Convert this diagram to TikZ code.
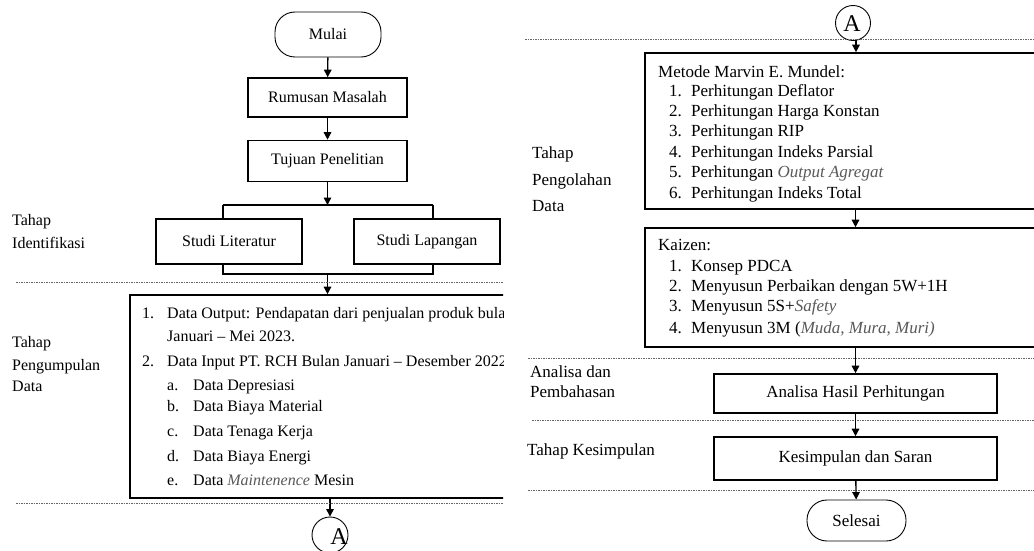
\documentclass[tikz,border=0pt]{standalone}
\usepackage{fontspec}
\setmainfont{Liberation Serif}
\usetikzlibrary{arrows.meta}
\begin{document}
\begin{tikzpicture}[x=1pt,y=-1pt,
  fL/.style={font=\fontsize{16}{18}\selectfont},
  fR/.style={font=\fontsize{17}{19}\selectfont},
  fA/.style={font=\fontsize{24}{26}\selectfont},
  box/.style={draw, line width=1.6pt, inner sep=0pt},
  term/.style={draw, line width=0.9pt, rounded corners=20pt, inner sep=0pt},
  conn/.style={draw, circle, line width=0.9pt, inner sep=0pt, minimum size=#1},
  tL/.style={fL, anchor=west, inner sep=0pt, text height=11.2pt, text depth=4pt},
  tR/.style={fR, anchor=west, inner sep=0pt, text height=11.9pt, text depth=4.3pt},
  arr/.style={line width=1.4pt, -{Triangle[width=7.5pt,length=7.5pt]}},
  ln/.style={line width=1.4pt},
  sep/.style={draw=black!60, line width=0.8pt, dash pattern=on 1.5pt off 1pt}
]
\useasboundingbox (0,0) rectangle (1034,551);
\fill[white] (0,0) rectangle (1034,551);

% ================= LEFT HALF =================
\begin{scope}
\clip (0,0) rectangle (503,551);
\node[term, fL, minimum width=106pt, minimum height=45pt] (mulai) at (328,34.5) {Mulai};
\node[box, fL, minimum width=159pt, minimum height=39pt] (rum) at (327.5,97.5) {Rumusan Masalah};
\node[box, fL, minimum width=159pt, minimum height=41pt] (tuj) at (327.5,161) {Tujuan Penelitian};
\node[box, fL, minimum width=146pt, minimum height=45pt] (lit) at (229,241.5) {Studi Literatur};
\node[box, fL, minimum width=146pt, minimum height=45pt] (lap) at (427,241.5) {Studi Lapangan};
\coordinate (bt) at (327.5,205);
\coordinate (bb) at (327.5,274);
\coordinate (btl) at (223,205);
\coordinate (btr) at (433,205);
\coordinate (bbl) at (223,274);
\coordinate (bbr) at (433,274);
\node[box, minimum width=500pt, minimum height=203pt] (data) at (380,396.5) {};
\node[conn=36pt] (ca) at (330,535) {};
\node[fA, inner sep=0pt] (caA) at (339,537) {A};

\draw[arr] (mulai) -- (rum);
\draw[arr] (rum) -- (tuj);
\draw[arr] (tuj) -- (bt);
\draw[ln] (btl) -- (btr);
\draw[ln] (btl) -- (btl |- lit.north);
\draw[ln] (btr) -- (btr |- lap.north);
\draw[ln] (bbl |- lit.south) -- (bbl) -- (bbr) -- (bbr |- lap.south);
\draw[arr] (bb) -- (bb |- data.north);
\draw[arr] (ca |- data.south) -- (ca);

\draw[sep] (16,282) -- (503,282);
\draw[sep] (16,503) -- (503,503);

\node[tL] (l1) at (12,222) {Tahap};
\node[tL] (l2) at (12,245) {Identifikasi};
\node[tL] (l3) at (12,344) {Tahap};
\node[tL] (l4) at (12,367) {Pengumpulan};
\node[tL] (l5) at (12,388) {Data};

\node[tL] (d1n) at (142,315) {1.};
\node[tL] (d1) at (167,315) {Data Output: Pendapatan dari penjualan produk bulan};
\node[tL] (d1b) at (167,338) {Januari – Mei 2023.};
\node[tL] (d2n) at (142,363) {2.};
\node[tL] (d2) at (167,363) {Data Input PT. RCH Bulan Januari – Desember 2022};
\node[tL] (dan) at (167,387) {a.};
\node[tL] (da) at (193,387) {Data Depresiasi};
\node[tL] (dbn) at (167,408) {b.};
\node[tL] (db) at (193,408) {Data Biaya Material};
\node[tL] (dcn) at (167,433) {c.};
\node[tL] (dc) at (193,433) {Data Tenaga Kerja};
\node[tL] (ddn) at (167,458) {d.};
\node[tL] (dd) at (193,458) {Data Biaya Energi};
\node[tL] (den) at (167,482) {e.};
\node[tL] (de) at (193,482) {Data \textcolor{black!65}{\textit{Maintenence}} Mesin};
\end{scope}

% ================= RIGHT HALF =================
\begin{scope}
\clip (510,0) rectangle (1034,551);
\node[conn=35pt] (cb) at (853,23) {};
\node[fA, inner sep=0pt] (cbA) at (852,24) {A};
\coordinate (cbs) at (856,40.5);
\node[box, minimum width=500pt, minimum height=156pt] (met) at (895,131) {};
\node[box, minimum width=500pt, minimum height=119pt] (kai) at (895,287.5) {};
\node[box, fR, minimum width=283pt, minimum height=39pt] (ana) at (855.5,393.5) {Analisa Hasil Perhitungan};
\node[box, fR, minimum width=283pt, minimum height=43pt] (kes) at (855.5,458.5) {Kesimpulan dan Saran};
\node[term, fR, minimum width=99pt, minimum height=41pt] (sel) at (856.5,520.5) {Selesai};

\draw[sep] (525,39) -- (1034,39);
\draw[sep] (528,358) -- (1034,358);
\draw[sep] (532,420) -- (1034,420);
\draw[sep] (528,490) -- (1034,490);

\draw[arr] (cbs) -- (cbs |- met.north);
\draw[arr] (ana.north |- met.south) -- (ana.north |- kai.north);
\draw[arr] (ana.north |- kai.south) -- (ana.north);
\draw[arr] (ana) -- (kes);
\draw[arr] (kes) -- (sel);

\node[tR] (r1) at (532,155) {Tahap};
\node[tR] (r2) at (532,182) {Pengolahan};
\node[tR] (r3) at (532,208) {Data};
\node[tR] (r4) at (530,374) {Analisa dan};
\node[tR] (r5) at (530,394) {Pembahasan};
\node[tR] (r6) at (527,452) {Tahap Kesimpulan};

\node[tR] (m0) at (658,74) {Metode Marvin E. Mundel:};
\node[tR] (m1n) at (669,93) {1.};
\node[tR] (m1) at (691,93) {Perhitungan Deflator};
\node[tR] (m2n) at (669,113) {2.};
\node[tR] (m2) at (691,113) {Perhitungan Harga Konstan};
\node[tR] (m3n) at (669,133) {3.};
\node[tR] (m3) at (691,133) {Perhitungan RIP};
\node[tR] (m4n) at (669,154) {4.};
\node[tR] (m4) at (691,154) {Perhitungan Indeks Parsial};
\node[tR] (m5n) at (669,174) {5.};
\node[tR] (m5) at (691,174) {Perhitungan \textcolor{black!65}{\textit{Output Agregat}}};
\node[tR] (m6n) at (669,195) {6.};
\node[tR] (m6) at (691,195) {Perhitungan Indeks Total};

\node[tR] (k0) at (658,247) {Kaizen:};
\node[tR] (k1n) at (669,268) {1.};
\node[tR] (k1) at (691,268) {Konsep PDCA};
\node[tR] (k2n) at (669,288) {2.};
\node[tR] (k2) at (691,288) {Menyusun Perbaikan dengan 5W+1H};
\node[tR] (k3n) at (669,308) {3.};
\node[tR] (k3) at (691,308) {Menyusun 5S+\textcolor{black!65}{\textit{Safety}}};
\node[tR] (k4n) at (669,330) {4.};
\node[tR] (k4) at (691,330) {Menyusun 3M (\textcolor{black!65}{\textit{Muda, Mura, Muri)}}};
\end{scope}
\end{tikzpicture}
\end{document}
